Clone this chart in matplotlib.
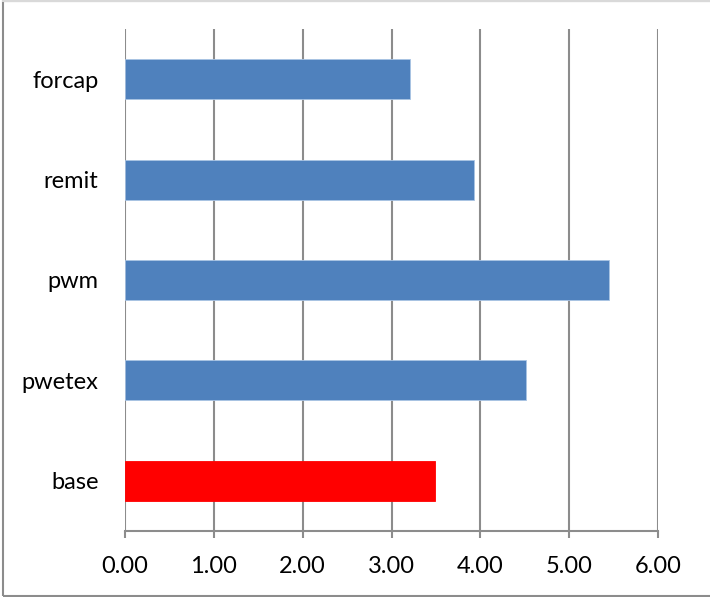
import matplotlib
matplotlib.use("Agg")
import matplotlib.pyplot as plt
from matplotlib.patches import Rectangle

categories = ["base", "pwetex", "pwm", "remit", "forcap"]
values = [3.49, 4.51, 5.45, 3.93, 3.21]
colors = ["#ff0000", "#4f81bd", "#4f81bd", "#4f81bd", "#4f81bd"]
xticks = [0, 1, 2, 3, 4, 5, 6]
xticklabels = ["0.00", "1.00", "2.00", "3.00", "4.00", "5.00", "6.00"]

plt.rcParams['font.family'] = ['Lato', 'DejaVu Sans']

W, H = 710, 597
fig = plt.figure(figsize=(W/100, H/100), dpi=100)
ax = fig.add_axes([125/W, (H-531)/H, (658-125)/W, (531-29)/H])

ax.barh(range(len(categories)), values, height=0.4, color=colors, zorder=3,
        edgecolor=["#ff0000"] + ["#a9c4e4"]*4, linewidth=0.6)
ax.set_xlim(0, 6)
ax.set_ylim(-0.5, len(categories) - 0.5)
ax.set_xticks(xticks)
ax.set_xticklabels(xticklabels, fontsize=17)
ax.set_yticks(range(len(categories)))
ax.set_yticklabels(categories, fontsize=17)

ax.grid(axis='x', color='#8c8c8c', linewidth=1.5, zorder=0)
ax.grid(axis='y', visible=False)
for s in ['top', 'right', 'left']:
    ax.spines[s].set_visible(False)
ax.spines['bottom'].set_color('#8c8c8c')
ax.spines['bottom'].set_linewidth(1.5)
ax.tick_params(axis='x', length=5, width=1.5, color='#8c8c8c', pad=13)
ax.tick_params(axis='y', length=0, pad=19)

# outer chart border
fig.add_artist(Rectangle((3/W, 1/H), (W-3)/W + 0.01, (H-2)/H,
                         transform=fig.transFigure, fill=False,
                         edgecolor='#8c8c8c', linewidth=1.5))
fig.add_artist(plt.Line2D([3/W, 1], [1-1/H, 1-1/H], transform=fig.transFigure,
                          color='#d9d9d9', linewidth=1.5))

fig.savefig("out.png", dpi=100)
